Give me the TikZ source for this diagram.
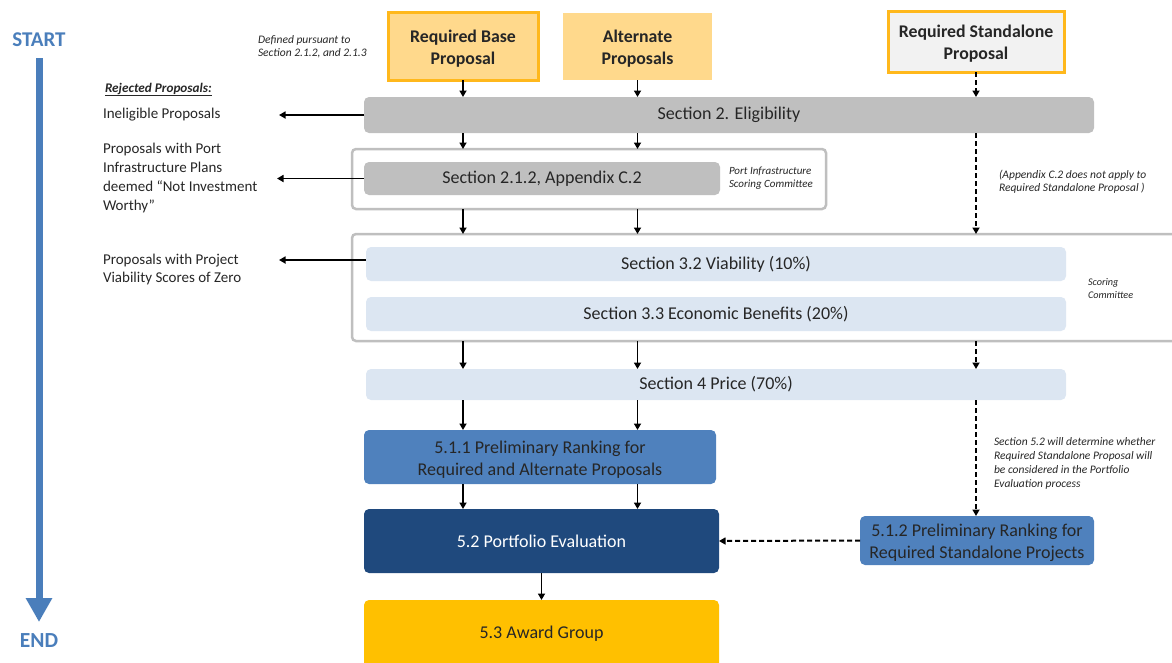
\documentclass[tikz,border=0pt]{standalone}
\usepackage{fontspec}
\setmainfont{Carlito}
\usetikzlibrary{arrows.meta,calc}
\definecolor{bluearr}{HTML}{4A7EBB}
\definecolor{lorange}{HTML}{FFD98C}
\definecolor{orangeb}{HTML}{FFB81C}
\definecolor{lgray}{HTML}{F2F2F2}
\definecolor{mgray}{HTML}{BFBFBF}
\definecolor{lblue}{HTML}{DCE6F2}
\definecolor{mblue}{HTML}{4F81BD}
\definecolor{dblue}{HTML}{1F497D}
\definecolor{gold}{HTML}{FFC000}
\definecolor{textc}{HTML}{262626}
\newcommand{\topstrut}{\rule{0pt}{17pt}}
\begin{document}
\begin{tikzpicture}[x=1pt,y=-1pt,
  every node/.style={inner sep=0pt, outer sep=0pt, text=textc},
  topbox/.style={minimum width=#1, align=center, font=\bfseries\fontsize{17.8}{22}\selectfont, fill=lorange},
  bar/.style={rounded corners=5pt, minimum width=#1, align=center, font=\fontsize{18}{22}\selectfont},
  graybar/.style={bar=#1, fill=mgray},
  bluebar/.style={bar=#1, fill=lblue},
  frame/.style={draw=mgray, line width=2.5pt, rounded corners=4pt, fill=white},
  leftlbl/.style={anchor=west, align=left, font=\fontsize{15}{18.7}\selectfont},
  note/.style={anchor=west, align=left, font=\itshape\fontsize{11.5}{13}\selectfont},
  arr/.style={line width=1.6pt, black, -{Triangle[length=6.5pt,width=7pt]}},
  darr/.style={arr, line width=2pt, dash pattern=on 5pt off 3pt}
]
\useasboundingbox (0,0) rectangle (1172,662);
\clip (0,0) rectangle (1172,662);

% timeline
\node[font=\bfseries\fontsize{21}{24}\selectfont, text=bluearr] (start) at (39,40) {START};
\node[font=\bfseries\fontsize{21.5}{24}\selectfont, text=bluearr] (end) at (39,641) {END};
\coordinate (tlA) at (39,58);
\coordinate (tlB) at (39,622);
\draw[line width=7pt, bluearr, -{Triangle[length=24pt,width=25pt]}] (tlA) -- (tlB);

% top boxes
\node[topbox=150pt, minimum height=68pt, draw=orangeb, line width=3pt] (base) at (463,46) {\topstrut Required Base\\Proposal};
\node[topbox=149pt, minimum height=67pt] (alt) at (637.5,46.5) {\topstrut Alternate\\Proposals};
\node[topbox=176pt, minimum height=61pt, fill=lgray, draw=orangeb, line width=3pt] (stand) at (976,41.5) {\topstrut Required Standalone\\Proposal};

\node[note] (defn) at (258,46.5) {Defined pursuant to\\Section 2.1.2, and 2.1.3};

% eligibility
\node[graybar=730pt, minimum height=36pt] (elig) at (729,115) {Section 2. Eligibility};

% port infrastructure frame
\node[frame, minimum width=474pt, minimum height=60pt] (outer1) at (589,179) {};
\node[graybar=356pt, minimum height=33pt] (sec212) at (542,178.5) {Section 2.1.2, Appendix C.2};
\node[note, font=\itshape\fontsize{11}{13}\selectfont] (pisc) at (729,178.5) {Port Infrastructure\\Scoring Committee};

\node[note] (appc) at (999,181.5) {(Appendix C.2 does not apply to\\Required Standalone Proposal )};

% scoring frame
\node[frame, minimum width=833pt, minimum height=107pt] (outer2) at (768.5,287.5) {};
\node[bluebar=700pt, minimum height=34pt] (via) at (716,264) {Section 3.2 Viability (10\%)};
\node[bluebar=700pt, minimum height=34pt] (econ) at (716,314) {Section 3.3 Economic Benefits (20\%)};
\node[note, font=\itshape\fontsize{10.2}{13}\selectfont] (scc) at (1088,288.5) {Scoring\\Committee};

\node[bluebar=700pt, minimum height=31pt] (price) at (716,384.5) {Section 4 Price (70\%)};

% ranking
\node[bar=352pt, minimum height=54pt, fill=mblue] (r511) at (540,457) {\topstrut 5.1.1 Preliminary Ranking for\\Required and Alternate Proposals};
\node[bar=355pt, minimum height=64pt, fill=dblue, text=white] (p52) at (541.5,541) {5.2 Portfolio Evaluation};
\node[bar=234pt, minimum height=49pt, fill=mblue] (r512) at (977,540.5) {\topstrut 5.1.2 Preliminary Ranking for\\Required Standalone Projects};
\node[bar=355pt, minimum height=68pt, fill=gold] (award) at (541.5,634) {5.3 Award Group};

\node[note, font=\itshape\fontsize{11.5}{14}\selectfont] (s52) at (994,463) {Section 5.2 will determine whether\\Required Standalone Proposal will\\be considered in the Portfolio\\Evaluation process};

% rejected proposals
\node[anchor=west, font=\bfseries\itshape\fontsize{13.2}{15}\selectfont] (rej) at (105,89.5) {\underline{Rejected Proposals:}};
\node[leftlbl] (inel) at (103,115) {Ineligible Proposals};
\node[leftlbl] (pip) at (103,178) {Proposals with Port\\Infrastructure Plans\\deemed “Not Investment\\Worthy”};
\node[leftlbl] (pvz) at (103,269.5) {Proposals with Project\\Viability Scores of Zero};
\coordinate (rj1) at (279,115);
\coordinate (rj2) at (277,178.5);
\coordinate (rj3) at (279,260);

\draw[arr] (elig.west) -- (rj1);
\draw[arr] (sec212.west) -- (rj2);
\draw[line width=1.6pt] ([yshift=4pt]outer2.west |- via.west) -- ([yshift=4pt]via.west);
\draw[arr] ([yshift=4pt]outer2.west |- via.west) -- (rj3);

% flow arrows
\foreach \c in {base, alt}{
  \draw[arr] (\c.south) -- (\c.south |- elig.north);
  \draw[arr] (elig.south -| \c) -- (outer1.north -| \c);
  \draw[arr] (outer1.south -| \c) -- (outer2.north -| \c);
  \draw[arr] (outer2.south -| \c) -- (price.north -| \c);
  \draw[arr] (price.south -| \c) -- (r511.north -| \c);
  \draw[arr] (r511.south -| \c) -- (p52.north -| \c);
}
\draw[darr] (stand.south) -- (stand.south |- elig.north);
\draw[darr] (elig.south -| stand) -- (outer2.north -| stand);
\draw[darr] (outer2.south -| stand) -- (price.north -| stand);
\draw[darr] (price.south -| stand) -- (r512.north -| stand);
\draw[darr] (r512.west) -- (p52.east);
\draw[arr] (p52.south) -- (award.north);
\end{tikzpicture}
\end{document}
